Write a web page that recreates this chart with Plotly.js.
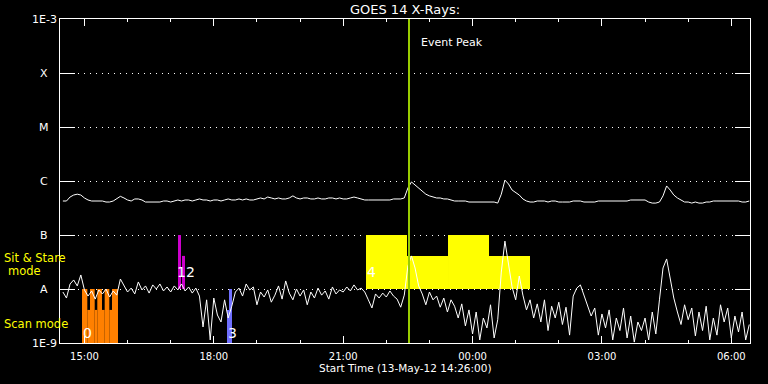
<!DOCTYPE html>
<html><head><meta charset="utf-8">
<script src="https://cdn.plot.ly/plotly-3.0.1.min.js"></script>
<style>html,body{margin:0;padding:0;background:#000;}#chart{width:768px;height:384px;}</style>
</head><body><div id="chart"></div>
<script>
// ---- sample times (HH:MM); hours >= 14 are 13-May-12, others 14-May-12 ----
const sampleTimes = [
"14:30","14:35","14:40","14:45","14:50","14:55",
"15:00","15:05","15:10","15:15","15:20","15:25","15:30","15:35","15:40","15:45","15:50","15:55",
"16:00","16:05","16:10","16:15","16:20","16:25","16:30","16:35","16:40","16:45","16:50","16:55",
"17:00","17:05","17:10","17:15","17:20","17:25","17:30","17:35","17:40","17:45","17:50","17:55",
"18:00","18:05","18:10","18:15","18:20","18:25","18:30","18:35","18:40","18:45","18:50","18:55",
"19:00","19:05","19:10","19:15","19:20","19:25","19:30","19:35","19:40","19:45","19:50","19:55",
"20:00","20:05","20:10","20:15","20:20","20:25","20:30","20:35","20:40","20:45","20:50","20:55",
"21:00","21:05","21:10","21:15","21:20","21:25","21:30","21:35","21:40","21:45","21:50","21:55",
"22:00","22:05","22:10","22:15","22:20","22:25","22:30","22:35","22:40","22:45","22:50","22:55",
"23:00","23:05","23:10","23:15","23:20","23:25","23:30","23:35","23:40","23:45","23:50","23:55",
"00:00","00:05","00:10","00:15","00:20","00:25","00:30","00:35","00:40","00:45","00:50","00:55",
"01:00","01:05","01:10","01:15","01:20","01:25","01:30","01:35","01:40","01:45","01:50","01:55",
"02:00","02:05","02:10","02:15","02:20","02:25","02:30","02:35","02:40","02:45","02:50","02:55",
"03:00","03:05","03:10","03:15","03:20","03:25","03:30","03:35","03:40","03:45","03:50","03:55",
"04:00","04:05","04:10","04:15","04:20","04:25","04:30","04:35","04:40","04:45","04:50","04:55",
"05:00","05:05","05:10","05:15","05:20","05:25","05:30","05:35","05:40","05:45","05:50","05:55",
"06:00","06:05","06:10","06:15","06:20","06:25"
];

// ---- 1-8 A channel (W/m^2) ----
const longChannel = [
4.26e-7,4.26e-7,5.05e-7,5.5e-7,5.7e-7,5.5e-7,
4.85e-7,4.45e-7,4.26e-7,4.26e-7,4.26e-7,4.26e-7,4.08e-7,4.08e-7,4.26e-7,4.65e-7,5.2e-7,4.85e-7,
4.45e-7,4.26e-7,4.65e-7,4.65e-7,4.45e-7,4.08e-7,4.08e-7,4.08e-7,4.08e-7,4.08e-7,4.26e-7,4.26e-7,
4.08e-7,4.26e-7,4.45e-7,4.26e-7,4.45e-7,4.45e-7,4.26e-7,4.45e-7,4.65e-7,4.45e-7,4.45e-7,4.26e-7,
4.45e-7,4.45e-7,4.26e-7,4.45e-7,4.65e-7,4.45e-7,4.45e-7,4.65e-7,4.45e-7,4.65e-7,4.45e-7,4.45e-7,
4.65e-7,4.85e-7,4.65e-7,5.05e-7,4.85e-7,4.65e-7,4.85e-7,4.65e-7,4.65e-7,4.85e-7,5.3e-7,4.85e-7,
4.65e-7,4.85e-7,4.85e-7,4.65e-7,4.65e-7,4.85e-7,4.65e-7,4.65e-7,4.85e-7,4.85e-7,4.65e-7,4.85e-7,
4.65e-7,4.65e-7,4.85e-7,5.05e-7,4.85e-7,4.65e-7,4.45e-7,4.45e-7,4.45e-7,4.45e-7,4.45e-7,4.45e-7,
4.45e-7,4.45e-7,4.65e-7,4.65e-7,4.65e-7,4.85e-7,7.4e-7,9.6e-7,8.4e-7,7.4e-7,6.5e-7,5.7e-7,
5.3e-7,5.05e-7,4.85e-7,4.85e-7,4.65e-7,4.65e-7,4.45e-7,4.26e-7,4.26e-7,4.26e-7,4.26e-7,4.08e-7,
4.08e-7,4.08e-7,4.08e-7,4.08e-7,4.08e-7,4.08e-7,4.08e-7,3.9e-7,5.7e-7,1.04e-6,8.8e-7,6.8e-7,
6.0e-7,5.5e-7,4.65e-7,4.26e-7,4.08e-7,4.08e-7,4.26e-7,4.26e-7,4.26e-7,4.08e-7,4.26e-7,4.26e-7,
4.08e-7,4.08e-7,4.08e-7,4.08e-7,4.26e-7,4.26e-7,4.26e-7,4.08e-7,4.08e-7,4.08e-7,4.08e-7,4.26e-7,
4.26e-7,4.26e-7,4.26e-7,4.26e-7,4.26e-7,4.26e-7,4.26e-7,4.26e-7,4.45e-7,4.45e-7,4.45e-7,4.45e-7,
4.45e-7,4.08e-7,3.9e-7,3.9e-7,4.08e-7,5.3e-7,8.1e-7,6.8e-7,5.5e-7,4.85e-7,4.45e-7,4.08e-7,
4.08e-7,3.9e-7,4.08e-7,3.9e-7,3.9e-7,4.08e-7,4.08e-7,4.26e-7,4.26e-7,4.26e-7,4.26e-7,4.26e-7,
4.26e-7,4.26e-7,4.26e-7,4.08e-7,4.08e-7,4.26e-7
];

// ---- 0.5-4 A channel (W/m^2) ----
const shortChannel = [
8.8e-9,6.8e-9,1.24e-8,1.47e-8,1.14e-8,1.82e-8,
9.6e-9,7.4e-9,9.2e-9,6.5e-9,9.6e-9,8.1e-9,1.0e-8,7.1e-9,9.2e-9,7.7e-9,1.53e-8,1.19e-8,
8.8e-9,1.04e-8,8.1e-9,1.35e-8,9.6e-9,1.14e-8,8.4e-9,1.19e-8,1.0e-8,1.24e-8,9.2e-9,1.09e-8,
8.8e-9,1.14e-8,9.6e-9,1.24e-8,9.2e-9,1.09e-8,8.4e-9,1.04e-8,7.4e-9,1.98e-9,6.3e-9,1.14e-9,
6.8e-9,3.3e-9,2.45e-9,6.3e-9,2.9e-9,4.8e-9,8.8e-9,1.04e-8,7.4e-9,1.24e-8,9.6e-9,1.09e-8,
5.1e-9,8.8e-9,7.1e-9,9.6e-9,5.7e-9,7.7e-9,1.14e-8,6.5e-9,1.41e-8,8.4e-9,6.3e-9,1.0e-8,
7.4e-9,9.6e-9,5.1e-9,8.8e-9,6.8e-9,1.04e-8,7.7e-9,9.2e-9,6.5e-9,1.09e-8,8.1e-9,9.6e-9,
8.8e-9,1.09e-8,9.2e-9,1.19e-8,9.6e-9,1.04e-8,8.8e-9,6.3e-9,4.45e-9,8.1e-9,6.8e-9,8.4e-9,
7.1e-9,9.2e-9,7.4e-9,6.5e-9,4.6e-9,7.7e-9,2.67e-8,4.1e-8,2.45e-8,1.14e-8,8.1e-9,5.1e-9,
8.8e-9,6.3e-9,7.4e-9,4.6e-9,6.8e-9,3.75e-9,6.3e-9,4.8e-9,2.9e-9,5.3e-9,2.07e-9,4.1e-9,
1.47e-9,3.75e-9,1.14e-9,2.9e-9,1.9e-9,5.1e-9,1.24e-9,2.7e-9,2.06e-8,7.7e-8,3.16e-8,1.09e-8,
6.3e-9,1.74e-8,7.7e-9,4.1e-9,6.3e-9,2.9e-9,5.3e-9,2.45e-9,6.3e-9,1.7e-9,4.8e-9,2.9e-9,
5.7e-9,2.2e-9,4.6e-9,1.4e-9,7.4e-9,1.04e-8,1.19e-8,7.7e-9,5.1e-9,3.16e-9,4.45e-9,1.4e-9,
3.45e-9,1.9e-9,4.1e-9,1.14e-9,2.9e-9,1.7e-9,4.45e-9,1.24e-9,3.16e-9,1.04e-9,2.45e-9,1.7e-9,
2.9e-9,1.14e-9,3.75e-9,1.47e-9,6.3e-9,2.45e-8,3.6e-8,1.6e-8,6.8e-9,3.75e-9,2.2e-9,5.1e-9,
2.7e-9,4.45e-9,1.35e-9,3.75e-9,1.7e-9,4.8e-9,1.14e-9,2.9e-9,1.4e-9,5.1e-9,2.45e-9,4.45e-9,
1.24e-9,3.16e-9,1.6e-9,3.75e-9,1.14e-9,2.2e-9
];

// ---- observation blocks ----
const scanStart = ["14:56:36","15:04:00","15:07:44","15:14:17","15:17:54","15:24:26","15:28:11","15:34:36","15:38:21"];
const scanEnd   = ["15:04:00","15:07:44","15:14:17","15:17:54","15:24:26","15:28:11","15:34:36","15:38:21","15:46:41"];
const scanTop   = [1e-8,4.1e-9,1e-8,4.1e-9,1e-8,4.1e-9,1e-8,4.1e-9,1e-8];

const obs12Start = ["17:10:10","17:15:44"];
const obs12End   = ["17:14:20","17:19:55"];
const obs12Top   = [1e-7,4.1e-8];

const obs3Start = ["18:18:21","18:21:08"];
const obs3End   = ["18:21:08","18:25:18"];
const obs3Top   = [4.1e-9,1e-8];

const stareStart = ["21:31:44","22:28:47","23:25:50","00:22:52"];
const stareEnd   = ["22:28:47","23:25:50","00:22:52","01:19:55"];
const stareTop   = [1e-7,4.1e-8,1e-7,4.1e-8];

const blockLabels = [
  {text:"0", t:"14:56:36"},
  {text:"12", t:"17:10:10"},
  {text:"3", t:"18:18:21"},
  {text:"4", t:"21:31:44"}
];

const eventPeak = "22:31:34";

const yLevels = [1e-9,1e-8,1e-7,1e-6,1e-5,1e-4,1e-3];
const yLabels = ["1E-9","A","B","C","M","X","1E-3"];

// ---- helpers ----
function toDate(hm){
  const h = parseInt(hm.slice(0,2),10);
  const day = h >= 14 ? "2012-05-13" : "2012-05-14";
  return day + " " + (hm.length === 5 ? hm + ":00" : hm);
}
const FONT = "DejaVu Sans";
const shapes = [];
function addBlocks(starts, ends, bottoms, tops, color){
  for(let i=0;i<starts.length;i++){
    shapes.push({type:"rect", xref:"x", yref:"y", x0:toDate(starts[i]), x1:toDate(ends[i]),
      y0:Array.isArray(bottoms)?bottoms[i]:bottoms, y1:tops[i], fillcolor:color, line:{width:0}, layer:"between"});
  }
}
addBlocks(scanStart, scanEnd, 1e-9, scanTop, "#ff8000");
addBlocks(obs12Start, obs12End, 1e-8, obs12Top, "#cc00cc");
addBlocks(obs3Start, obs3End, 1e-9, obs3Top, "#7070ff");
addBlocks(stareStart, stareEnd, 1e-8, stareTop, "#ffff00");
shapes.push({type:"line", xref:"x", yref:"paper", x0:toDate(eventPeak), x1:toDate(eventPeak), y0:0, y1:1,
  line:{color:"#99cc00", width:2}, layer:"above"});

const xs = sampleTimes.map(toDate);
const traces = [
  {x:xs, y:longChannel, type:"scatter", mode:"lines", line:{color:"#ffffff", width:1}, hoverinfo:"skip"},
  {x:xs, y:shortChannel, type:"scatter", mode:"lines", line:{color:"#ffffff", width:1}, hoverinfo:"skip"}
];

const annotations = [];
yLevels.forEach((v,i)=>{
  annotations.push({xref:"paper", x:0, xshift:-16, xanchor:"center", yref:"y", y:Math.log10(v), yanchor:"middle",
    text:yLabels[i], showarrow:false, font:{family:FONT, size:11, color:"#ffffff"}});
});
const yellowFont = {family:FONT, size:11.5, color:"#ffff00"};
annotations.push({xref:"paper", x:0, xshift:-58, xanchor:"left", yref:"y", y:-7.426, yanchor:"middle", text:"Sit & Stare", showarrow:false, font:yellowFont});
annotations.push({xref:"paper", x:0, xshift:-35.5, xanchor:"center", yref:"y", y:-7.667, yanchor:"middle", text:"mode", showarrow:false, font:yellowFont});
annotations.push({xref:"paper", x:0, xshift:-58, xanchor:"left", yref:"y", y:-8.639, yanchor:"middle", text:"Scan mode", showarrow:false, font:yellowFont});
const labelY = {"0":-8.815, "12":-7.694, "3":-8.815, "4":-7.685};
const labelShift = {"0":5.5, "12":8.5, "3":5, "4":5};
blockLabels.forEach(b=>{
  annotations.push({xref:"x", x:toDate(b.t), xshift:labelShift[b.text], xanchor:"center", yref:"y", y:labelY[b.text], yanchor:"middle",
    text:b.text, showarrow:false, font:{family:FONT, size:14, color:"#ffffff"}});
});
annotations.push({xref:"x", x:toDate(eventPeak), xshift:10, xanchor:"left", yref:"y", y:-3.444, yanchor:"middle",
  text:"Event Peak", showarrow:false, font:{family:FONT, size:11, color:"#ffffff"}});
annotations.push({xref:"paper", x:0.5, xanchor:"center", yref:"paper", y:-0.077, yanchor:"middle",
  text:"Start Time (13-May-12 14:26:00)", showarrow:false, font:{family:FONT, size:10.5, color:"#ffffff"}});

const layout = {
  width:768, height:384,
  margin:{l:60, r:18, t:19, b:41, pad:0},
  paper_bgcolor:"#000000", plot_bgcolor:"#000000",
  showlegend:false,
  title:{text:"GOES 14 X-Rays:", font:{family:FONT, size:13, color:"#ffffff"}, x:0.5, xref:"paper", xanchor:"center",
    y:1-9/384, yref:"container", yanchor:"middle"},
  xaxis:{type:"date", range:["2012-05-13 14:26:00","2012-05-14 06:26:00"],
    tick0:"2012-05-13 15:00:00", dtick:3*3600000, tickformat:"%H:%M",
    ticks:"inside", ticklen:7, tickwidth:1, tickcolor:"#ffffff",
    minor:{dtick:3600000, ticks:"inside", ticklen:3, tickwidth:1, tickcolor:"#ffffff", showgrid:false},
    showline:true, linecolor:"#ffffff", linewidth:1, mirror:"ticks", showgrid:false, zeroline:false,
    tickfont:{family:FONT, size:10, color:"#ffffff"}, ticklabelstandoff:4, fixedrange:true},
  yaxis:{type:"log", range:[-9,-3], tickvals:yLevels, showticklabels:false,
    ticks:"inside", ticklen:15, tickwidth:1, tickcolor:"#ffffff",
    showline:true, linecolor:"#ffffff", linewidth:1, mirror:"ticks",
    showgrid:true, gridcolor:"#ffffff", gridwidth:1, griddash:"1px,5px", zeroline:false, fixedrange:true},
  shapes:shapes,
  annotations:annotations
};
Plotly.newPlot("chart", traces, layout, {staticPlot:true, displayModeBar:false});
</script>
</body></html>
